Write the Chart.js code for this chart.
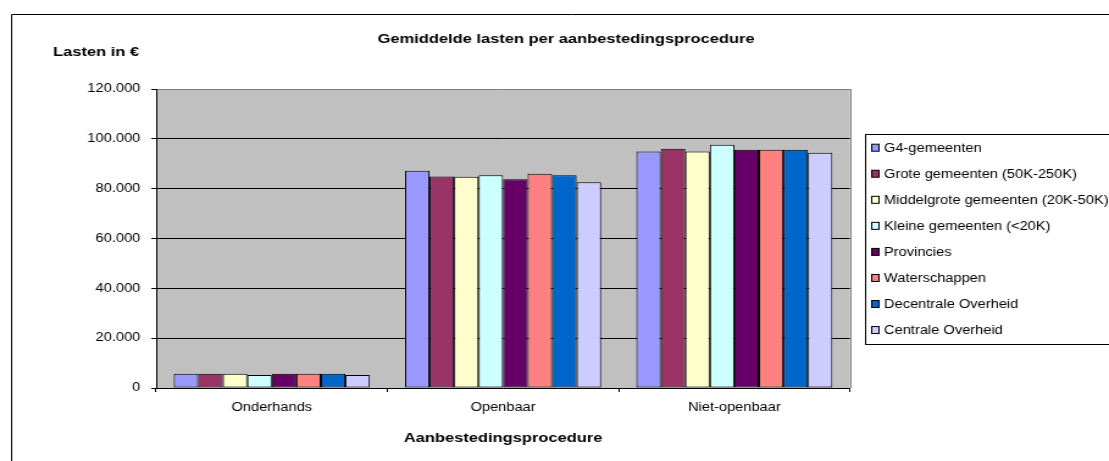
<!DOCTYPE html>
<html lang="nl">
<head>
  <meta charset="UTF-8">
  <title>Gemiddelde lasten per aanbestedingsprocedure</title>
  <script src="https://cdn.jsdelivr.net/npm/chart.js"></script>
  <style>
    body {
      margin: 0;
      background: #fff;
      overflow: hidden;
    }
    /* the original picture is stretched sideways, so stretch the canvas the same way */
    .wrap {
      width: 928px;
      height: 461px;
      transform: scaleX(1.22);
      transform-origin: 0 0;
    }
  </style>
</head>
<body>
<div class="wrap">
  <canvas id="lastenChart" width="928" height="461"></canvas>
</div>
<script>
const categories = ['Onderhands', 'Openbaar', 'Niet-openbaar'];
const g4Gemeenten = [5750, 87200, 94900];
const groteGemeenten = [5750, 84900, 96000];
const middelgroteGemeenten = [5750, 84800, 94900];
const kleineGemeenten = [5230, 85400, 97600];
const provincies = [5750, 83800, 95600];
const waterschappen = [5750, 86000, 95600];
const decentraleOverheid = [5750, 85400, 95600];
const centraleOverheid = [5230, 82600, 94400];
const yTicks = [0, 20000, 40000, 60000, 80000, 100000, 120000];

const FONT = "'Liberation Sans', Arial, sans-serif";
const chartTitle = 'Gemiddelde lasten per aanbestedingsprocedure';
const yTitle = 'Lasten in €';

const series = [
  { label: 'G4-gemeenten', data: g4Gemeenten, color: '#9999FF' },
  { label: 'Grote gemeenten (50K-250K)', data: groteGemeenten, color: '#993366' },
  { label: 'Middelgrote gemeenten (20K-50K)', data: middelgroteGemeenten, color: '#FFFFCC' },
  { label: 'Kleine gemeenten (<20K)', data: kleineGemeenten, color: '#CCFFFF' },
  { label: 'Provincies', data: provincies, color: '#660066' },
  { label: 'Waterschappen', data: waterschappen, color: '#FF8080' },
  { label: 'Decentrale Overheid', data: decentraleOverheid, color: '#0066CC' },
  { label: 'Centrale Overheid', data: centraleOverheid, color: '#CCCCFF' }
];

function formatNl(v) {
  return String(v).replace(/\B(?=(\d{3})+(?!\d))/g, '.');
}

// white page, outer frame, grey plot area, titles
const framePlugin = {
  id: 'frame',
  beforeDraw(chart) {
    const { ctx, chartArea: a } = chart;
    ctx.save();
    ctx.fillStyle = '#fff';
    ctx.fillRect(0, 0, chart.width, chart.height);
    ctx.strokeStyle = '#000';
    ctx.lineWidth = 1;
    ctx.beginPath();
    ctx.moveTo(9.5, chart.height);
    ctx.lineTo(9.5, 14.5);
    ctx.lineTo(chart.width, 14.5);
    ctx.stroke();
    ctx.fillStyle = '#C0C0C0';
    ctx.fillRect(a.left, a.top, a.right - a.left, a.bottom - a.top);
    ctx.strokeStyle = '#808080';
    ctx.beginPath();
    ctx.moveTo(Math.round(a.right) + 0.5, a.top);
    ctx.lineTo(Math.round(a.right) + 0.5, a.bottom);
    ctx.stroke();
    ctx.restore();
  },
  afterDraw(chart) {
    const { ctx } = chart;
    ctx.save();
    ctx.fillStyle = '#000';
    ctx.font = 'bold 13.5px ' + FONT;
    ctx.textBaseline = 'middle';
    ctx.textAlign = 'center';
    ctx.fillText(chartTitle, 464, 39);
    ctx.textAlign = 'left';
    ctx.fillText(yTitle, 43.5, 52);
    ctx.restore();
  }
};

// boxed legend on the right, like the spreadsheet one
const legendPlugin = {
  id: 'boxLegend',
  afterDraw(chart) {
    const { ctx } = chart;
    const left = 709, top = 134, bottom = 344;
    ctx.save();
    ctx.strokeStyle = '#000';
    ctx.lineWidth = 1;
    ctx.strokeRect(left + 0.5, top + 0.5, 1000, bottom - top);
    ctx.font = '12px ' + FONT;
    ctx.textBaseline = 'middle';
    ctx.textAlign = 'left';
    chart.data.datasets.forEach((ds, i) => {
      const y = 147.7 + i * 26.05;
      ctx.fillStyle = ds.backgroundColor;
      ctx.fillRect(714.5, y - 3.5, 6, 7);
      ctx.strokeStyle = '#000';
      ctx.strokeRect(714.5, y - 3.5, 6, 7);
      ctx.fillStyle = '#000';
      ctx.fillText(ds.label, 724.6, y + 0.5);
    });
    ctx.restore();
  }
};

new Chart(document.getElementById('lastenChart'), {
  type: 'bar',
  data: {
    labels: categories,
    datasets: series.map(s => ({
      label: s.label,
      data: s.data,
      backgroundColor: s.color,
      borderColor: '#000',
      borderWidth: 1,
      borderSkipped: false,
      categoryPercentage: 0.848,
      barPercentage: 1
    }))
  },
  options: {
    responsive: false,
    animation: false,
    devicePixelRatio: 1,
    layout: { padding: { left: 0, right: 231.3, top: 89, bottom: 0 } },
    plugins: {
      legend: { display: false },
      tooltip: { enabled: false },
      title: { display: false }
    },
    scales: {
      x: {
        offset: true,
        grid: { display: true, drawOnChartArea: false, drawTicks: true, tickLength: 4, color: '#000' },
        border: { color: '#000', width: 1 },
        ticks: { color: '#000', font: { family: FONT, size: 12 }, padding: 8, maxRotation: 0 },
        title: {
          display: true,
          text: 'Aanbestedingsprocedure',
          color: '#000',
          font: { family: FONT, size: 13.5, weight: 'bold' },
          padding: { top: 0, bottom: 15 }
        },
        afterFit: scale => { scale.height = 73; }
      },
      y: {
        min: yTicks[0],
        max: yTicks[yTicks.length - 1],
        afterBuildTicks: scale => { scale.ticks = yTicks.map(v => ({ value: v })); },
        grid: {
          color: ctx => (ctx.tick && ctx.tick.value === 120000 ? '#808080' : '#000'),
          tickColor: '#000',
          tickLength: 4
        },
        border: { color: '#000', width: 1 },
        ticks: {
          color: '#000',
          font: { family: FONT, size: 12 },
          padding: 9,
          callback: v => formatNl(v)
        },
        afterFit: scale => { scale.width = 128; }
      }
    }
  },
  plugins: [framePlugin, legendPlugin]
});
</script>
</body>
</html>
